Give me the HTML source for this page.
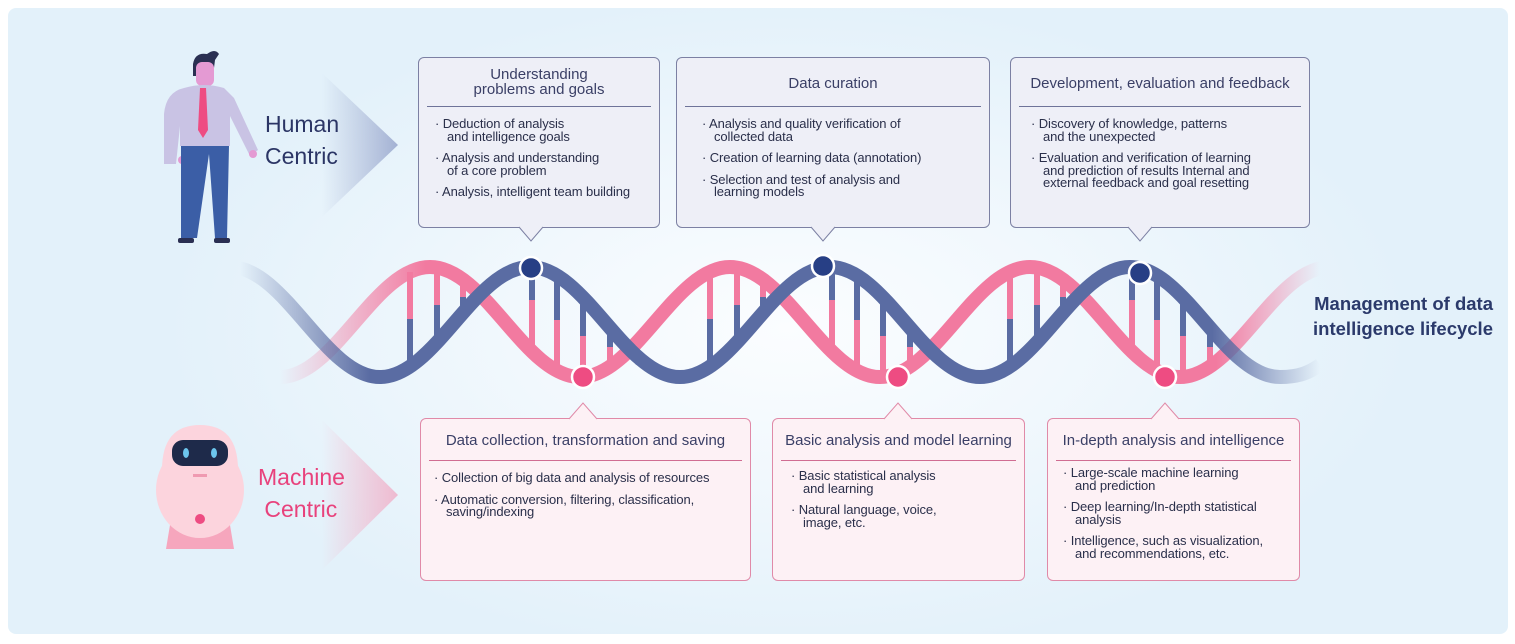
<!DOCTYPE html>
<html><head><meta charset="utf-8"><style>
body{margin:0;width:1515px;height:644px;background:#fff;font-family:"Liberation Sans",sans-serif;overflow:hidden;position:relative}
.bg{position:absolute;left:8px;top:8px;width:1500px;height:626px;border-radius:8px;background:radial-gradient(ellipse 620px 330px at 780px 320px,#fbfdff 0%,#f1f8fd 45%,#e3f1fa 100%)}
.box{position:absolute;border-radius:6px;box-sizing:border-box}
.top{background:#eeeff7;border:1px solid #7c80a3}
.bot{background:#fdf1f5;border:1px solid #e08aa8}
.t{position:absolute;left:0;right:0;text-align:center;color:#3a3f66;font-size:15px;line-height:15px}
.hr{position:absolute;left:8px;right:8px;height:1px}
.top .hr{background:#6e7399}.bot .hr{background:#d06d92}
.it{position:absolute;color:#2a2f4a;font-size:13px;line-height:12.5px;letter-spacing:-0.1px}
.it div{margin-bottom:9px;padding-left:12px;text-indent:-12px}
.lab{position:absolute;font-size:23px;line-height:32px}
.ptr{position:absolute;width:0;height:0}
</style></head><body>
<div class="bg"></div>
<svg width="1515" height="644" style="position:absolute;left:0;top:0">
<defs>
<linearGradient id="cb" x1="0" x2="1"><stop offset="0" stop-color="#a9b6d6" stop-opacity="0"/><stop offset="1" stop-color="#a3b1d3"/></linearGradient>
<linearGradient id="cp" x1="0" x2="1"><stop offset="0" stop-color="#f2b7cc" stop-opacity="0"/><stop offset="1" stop-color="#eebad0"/></linearGradient>
<linearGradient id="gb" gradientUnits="userSpaceOnUse" x1="240" x2="1320"><stop offset="0" stop-color="#5a6ca3" stop-opacity="0"/><stop offset="0.12" stop-color="#5a6ca3"/><stop offset="0.9" stop-color="#5a6ca3"/><stop offset="1" stop-color="#5a6ca3" stop-opacity="0"/></linearGradient>
<linearGradient id="gp" gradientUnits="userSpaceOnUse" x1="280" x2="1320"><stop offset="0" stop-color="#f27aa0" stop-opacity="0"/><stop offset="0.14" stop-color="#f27aa0"/><stop offset="0.9" stop-color="#f27aa0"/><stop offset="1" stop-color="#f27aa0" stop-opacity="0"/></linearGradient>
</defs>
<polygon points="322,73 398,145 322,217" fill="url(#cb)"/>
<polygon points="322,420 398,495 322,570" fill="url(#cp)"/>
<g stroke-width="6">
<g id="r">
<line x1="410" y1="272" x2="410" y2="319" stroke="#f27aa0"/><line x1="410" y1="319" x2="410" y2="366" stroke="#5a6ca3"/>
<line x1="437" y1="268" x2="437" y2="305" stroke="#f27aa0"/><line x1="437" y1="305" x2="437" y2="342" stroke="#5a6ca3"/>
<line x1="463" y1="280" x2="463" y2="297" stroke="#f27aa0"/><line x1="463" y1="297" x2="463" y2="313" stroke="#5a6ca3"/>
<line x1="532" y1="268" x2="532" y2="300" stroke="#5a6ca3"/><line x1="532" y1="300" x2="532" y2="350" stroke="#f27aa0"/>
<line x1="557" y1="274" x2="557" y2="320" stroke="#5a6ca3"/><line x1="557" y1="320" x2="557" y2="369" stroke="#f27aa0"/>
<line x1="583" y1="297" x2="583" y2="336" stroke="#5a6ca3"/><line x1="583" y1="336" x2="583" y2="377" stroke="#f27aa0"/>
<line x1="610" y1="328" x2="610" y2="347" stroke="#5a6ca3"/><line x1="610" y1="347" x2="610" y2="366" stroke="#f27aa0"/>
</g>
<use href="#r" x="300"/><use href="#r" x="600"/>
</g>
<path d="M280,377 C335,377 375,267 430,267 C485,267 525,377 580,377 C635,377 675,267 730,267 C785,267 825,377 880,377 C935,377 975,267 1030,267 C1085,267 1125,377 1180,377 C1235,377 1275,267 1330,267" fill="none" stroke="url(#gp)" stroke-width="14"/>
<path d="M230,267 C285,267 325,377 380,377 C435,377 475,267 530,267 C585,267 625,377 680,377 C735,377 775,267 830,267 C885,267 925,377 980,377 C1035,377 1075,267 1130,267 C1185,267 1225,377 1280,377 C1300,377 1310,372 1320,365" fill="none" stroke="url(#gb)" stroke-width="14"/>
<g stroke="#fff" stroke-width="2.5">
<circle cx="531" cy="268" r="11" fill="#273f85"/><circle cx="823" cy="266" r="11" fill="#273f85"/><circle cx="1140" cy="273" r="11" fill="#273f85"/>
<circle cx="583" cy="377" r="11" fill="#ee4c82"/><circle cx="898" cy="377" r="11" fill="#ee4c82"/><circle cx="1165" cy="377" r="11" fill="#ee4c82"/>
</g>
<!-- human -->
<path d="M193,64 q2,-12 14,-10 q8,-6 12,0 l-4,6 l-2,16 l-20,0z" fill="#2a2f52"/>
<rect x="196" y="62" width="18" height="24" rx="6" fill="#e49ad3"/>
<path d="M184,88 q20,-6 40,0 l10,10 l24,52 l-8,6 l-20,-40 l0,30 l-50,0 l0,-20 l-4,38 l-12,0 l0,-50 q2,-22 20,-26z" fill="#c9c3e4"/>
<circle cx="253" cy="154" r="4" fill="#e49ad3"/><circle cx="182" cy="160" r="4" fill="#e49ad3"/>
<path d="M181,146 l48,0 l-2,92 l-12,0 l-6,-84 l-12,84 l-16,0z" fill="#3b5ea6"/>
<polygon points="200,88 206,88 208,130 203,138 198,130" fill="#ee4c82"/>
<rect x="178" y="238" width="16" height="5" rx="2" fill="#2a2f52"/><rect x="214" y="238" width="16" height="5" rx="2" fill="#2a2f52"/>
<!-- robot -->
<path d="M170,525 l60,0 l4,24 l-68,0z" fill="#f6a6bd"/>
<ellipse cx="200" cy="490" rx="44" ry="48" fill="#fcd4dd"/>
<path d="M162,470 q0,-45 38,-45 q38,0 38,45z" fill="#fcd4dd"/>
<rect x="172" y="440" width="56" height="26" rx="11" fill="#1e2a4a"/>
<ellipse cx="186" cy="453" rx="3" ry="5" fill="#6cc6ee"/><ellipse cx="214" cy="453" rx="3" ry="5" fill="#6cc6ee"/>
<rect x="193" y="474" width="14" height="3" fill="#ef9ab1"/>
<circle cx="200" cy="519" r="5" fill="#ee4c82"/>
</svg>
<div class="lab" style="left:265px;top:108px;color:#2b3565">Human<br>Centric</div>
<div class="lab" style="left:258px;top:461px;color:#e8427c">Machine<br>&nbsp;Centric</div>
<div style="position:absolute;left:1290px;top:291px;width:203px;text-align:right;color:#2b3a6b;font-weight:bold;font-size:18.5px;line-height:25px">Management of data intelligence lifecycle</div>

<div class="box top" style="left:418px;top:57px;width:242px;height:171px">
<div class="t" style="top:9px">Understanding<br>problems and goals</div><div class="hr" style="top:48px"></div>
<div class="it" style="left:16px;top:60px;width:230px"><div>· Deduction of analysis<br>and intelligence goals</div><div>· Analysis and understanding<br>of a core problem</div><div>· Analysis, intelligent team building</div></div></div>
<div class="box top" style="left:676px;top:57px;width:314px;height:171px">
<div class="t" style="top:18px">Data curation</div><div class="hr" style="top:48px"></div>
<div class="it" style="left:25px;top:60px;width:285px"><div>· Analysis and quality verification of<br>collected data</div><div>· Creation of learning data (annotation)</div><div>· Selection and test of analysis and<br>learning models</div></div></div>
<div class="box top" style="left:1010px;top:57px;width:300px;height:171px">
<div class="t" style="top:18px">Development, evaluation and feedback</div><div class="hr" style="top:48px"></div>
<div class="it" style="left:20px;top:60px;width:280px"><div>· Discovery of knowledge, patterns<br>and the unexpected</div><div>· Evaluation and verification of learning<br>and prediction of results Internal and<br>external feedback and goal resetting</div></div></div>

<div class="box bot" style="left:420px;top:418px;width:331px;height:163px">
<div class="t" style="top:14px">Data collection, transformation and saving</div><div class="hr" style="top:41px"></div>
<div class="it" style="left:13px;top:53px;width:315px"><div>· Collection of big data and analysis of resources</div><div>· Automatic conversion, filtering, classification,<br>saving/indexing</div></div></div>
<div class="box bot" style="left:772px;top:418px;width:253px;height:163px">
<div class="t" style="top:14px">Basic analysis and model learning</div><div class="hr" style="top:41px"></div>
<div class="it" style="left:18px;top:51px;width:230px"><div>· Basic statistical analysis<br>and learning</div><div>· Natural language, voice,<br>image, etc.</div></div></div>
<div class="box bot" style="left:1047px;top:418px;width:253px;height:163px">
<div class="t" style="top:14px">In-depth analysis and intelligence</div><div class="hr" style="top:41px"></div>
<div class="it" style="left:15px;top:48px;width:235px"><div>· Large-scale machine learning<br>and prediction</div><div>· Deep learning/In-depth statistical<br>analysis</div><div>· Intelligence, such as visualization,<br>and recommendations, etc.</div></div></div>

<svg width="1515" height="644" style="position:absolute;left:0;top:0;pointer-events:none">
<g stroke-width="1">
<polyline points="519,227 531,241 543,227" fill="#eeeff7" stroke="#7c80a3"/>
<polyline points="811,227 823,241 835,227" fill="#eeeff7" stroke="#7c80a3"/>
<polyline points="1128,227 1140,241 1152,227" fill="#eeeff7" stroke="#7c80a3"/>
<polyline points="569,419 583,403 597,419" fill="#fdf1f5" stroke="#e08aa8"/>
<polyline points="884,419 898,403 912,419" fill="#fdf1f5" stroke="#e08aa8"/>
<polyline points="1151,419 1165,403 1179,419" fill="#fdf1f5" stroke="#e08aa8"/>
</g>
</svg>
</body></html>
